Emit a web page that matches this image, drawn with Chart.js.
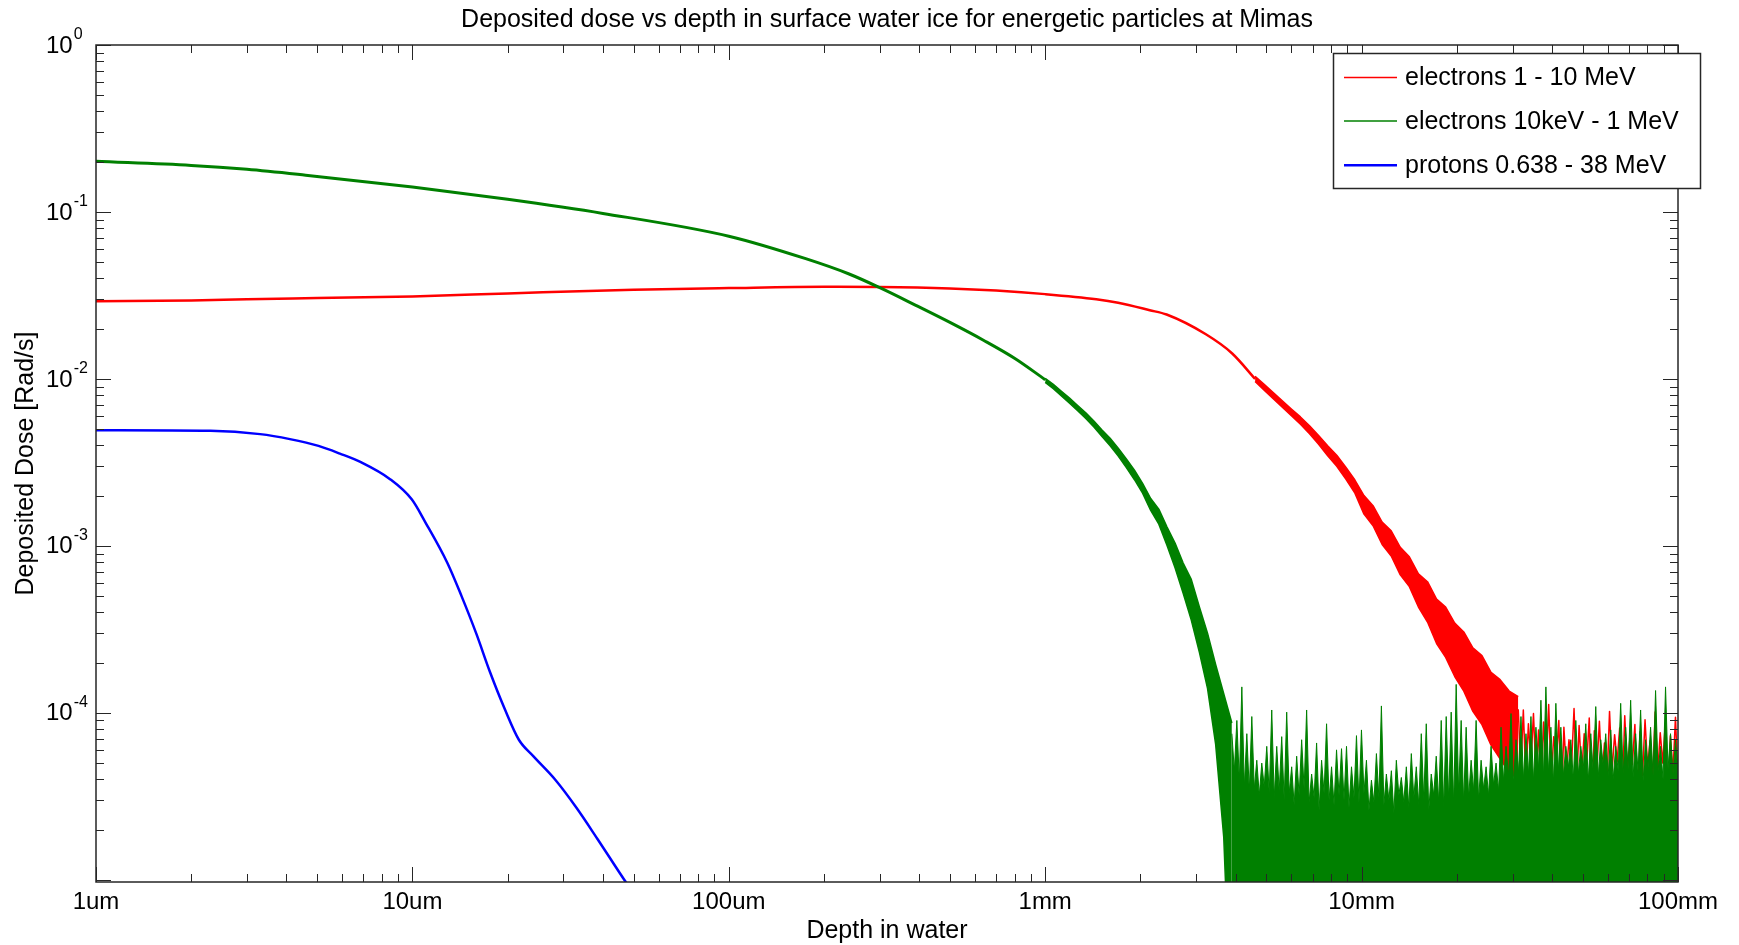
<!DOCTYPE html>
<html>
<head>
<meta charset="utf-8">
<title>Deposited dose vs depth - Mimas</title>
<script src="https://cdn.jsdelivr.net/npm/chart.js"></script>
<style>
    html, body { margin: 0; padding: 0; background: #ffffff; }
    #chart { display: block; }
</style>
</head>
<body>
<canvas id="chart" width="1739" height="945"></canvas>
<script>
// depth is in micrometres, dose in Rad/s
const titleText = "Deposited dose vs depth in surface water ice for energetic particles at Mimas";
const xTitle = "Depth in water";
const yTitle = "Deposited Dose [Rad/s]";
const xTickValues = [1, 10, 100, 1000, 10000, 100000];
const xTickLabels = ["1um", "10um", "100um", "1mm", "10mm", "100mm"];
const yTickPowers = [0, -1, -2, -3, -4];
const seriesNames = ["electrons 1 - 10 MeV", "electrons 10keV - 1 MeV", "protons 0.638 - 38 MeV"];

// electrons 1 - 10 MeV : clean part
const redDepth = [1, 2, 3, 5, 10, 20, 50, 100, 200, 300, 500, 700, 1000, 1450, 1700, 2140, 2420, 3220, 3900, 4606];
const redDose = [0.0292, 0.0295, 0.0300, 0.0305, 0.0312, 0.0325, 0.0342, 0.0350, 0.0356, 0.0355, 0.0348, 0.0338, 0.0322, 0.0300, 0.0286, 0.0258, 0.0243, 0.0185, 0.0142, 0.0100];
// noisy band, 4.6 mm to 31 mm (upper and lower edge)
const redBandRange = [4606, 31270];
const redBandHigh = [0.01038, 0.00927, 0.00828, 0.0074, 0.00661, 0.00592, 0.00524, 0.00458, 0.00398, 0.00349, 0.00296, 0.00248, 0.0020, 0.00174, 0.00139, 0.00123, 9.8e-4, 8.6e-4, 6.8e-4, 6.1e-4, 4.8e-4, 4.3e-4, 3.45e-4, 3.05e-4, 2.45e-4, 2.2e-4, 1.75e-4, 1.58e-4, 1.35e-4, 1.25e-4];
const redBandLow = [0.00964, 0.00857, 0.00762, 0.00678, 0.00603, 0.00535, 0.00469, 0.00406, 0.00347, 0.0030, 0.00251, 0.00207, 0.00155, 0.00132, 0.00102, 8.7e-4, 6.7e-4, 5.7e-4, 4.3e-4, 3.5e-4, 2.6e-4, 2.15e-4, 1.65e-4, 1.35e-4, 1.02e-4, 8.5e-5, 6.4e-5, 5.3e-5, 4.4e-5, 4.0e-5];
// noise floor tail, values in 1e-5 Rad/s
const redTailRange = [31270, 100000];
const redTailPeaks = [10.5, 10.4, 8.6, 9.9, 7.9, 8.8, 11.2, 7.2, 9.0, 8.2, 6.9, 10.6, 8.4, 7.5, 9.3, 7.8, 8.9, 6.6, 10.2, 7.4, 8.1, 9.6, 7.0, 8.5, 7.7, 9.1, 6.8, 10.1, 7.6, 8.7, 7.3, 9.4];
const redTailDips = [4.5, 3.9, 5.0, 4.2, 3.3, 4.6, 4.0, 5.2, 2.6, 4.4, 4.8, 3.6, 4.3, 5.0, 2.4, 4.6, 4.1, 3.8, 4.5, 5.1, 3.2, 4.4, 4.9, 2.5, 4.2, 4.7, 3.9, 4.4, 5.0, 2.8, 4.3, 4.0];

// electrons 10keV - 1 MeV
const greenDepth = [1, 2, 3, 4.6, 10, 20, 40, 100, 175, 240, 300, 390, 500, 640, 800, 1000];
const greenDose = [0.201, 0.190, 0.180, 0.166, 0.141, 0.119, 0.098, 0.0716, 0.0525, 0.0425, 0.0352, 0.0276, 0.0218, 0.0170, 0.0133, 0.0099];
const greenBandRange = [1000, 3890];
const greenBandHigh = [0.01007, 0.00927, 0.00843, 0.00767, 0.00693, 0.00627, 0.0056, 0.00495, 0.00441, 0.00385, 0.00332, 0.00284, 0.00237, 0.00192, 0.00166, 0.0013, 0.00104, 7.9e-4, 6.3e-4, 4.3e-4, 3.0e-4, 1.95e-4, 1.3e-4, 8.7e-5];
const greenBandLow = [0.00953, 0.00873, 0.00791, 0.00716, 0.00644, 0.00579, 0.00515, 0.00452, 0.00398, 0.00345, 0.00294, 0.00249, 0.00207, 0.00163, 0.00135, 0.00101, 7.4e-4, 5.2e-4, 3.6e-4, 2.3e-4, 1.4e-4, 6.5e-5, 1.8e-5, 1e-6];
// noise beyond 3.9 mm, values in 1e-5 Rad/s
const greenNoiseRange = [3890, 100000];
const greenNoisePeaks = [7.5, 9.0, 14.3, 7.5, 9.5, 5.2, 5.0, 6.3, 10.4, 6.3, 7.2, 10.1, 4.75, 5.5, 6.9, 10.4, 4.3, 6.6, 5.2, 8.6, 4.75, 6.0, 6.1, 6.3, 4.75, 7.3, 7.9, 5.2, 3.95, 5.7, 11.0, 4.3, 4.5, 5.2, 4.1, 4.75, 5.7, 4.75, 7.5, 8.6, 4.3, 5.5, 9.0, 9.5, 10.1, 14.8, 9.0, 8.2, 5.2, 9.0, 5.2, 4.75, 6.3, 5.0, 8.2, 6.3, 9.9, 6.9, 9.5, 7.5, 9.5, 8.2, 11.9, 14.3, 8.2, 11.4, 8.2, 6.3, 6.9, 9.0, 6.3, 8.6, 7.5, 10.9, 6.9, 7.5, 7.9, 6.3, 11.4, 8.2, 11.9, 7.5, 10.4, 6.9, 8.2, 13.6, 6.3, 14.3, 7.5, 6.9];
const greenNoiseFloor = [4.5, 3.9, 3.6, 3.4, 3.5, 3.2, 3.6, 3.3, 3.1, 3.4, 3.0, 3.3, 2.8, 3.2, 3.5, 2.9, 3.1, 2.6, 3.3, 3.0, 2.8, 3.2, 3.0, 2.7, 3.1, 2.9, 3.3, 2.6, 2.9, 3.1, 2.8, 3.0, 2.5, 3.2, 2.9, 2.7, 3.1, 2.8, 3.0, 2.6, 3.2, 2.9, 2.7, 3.0, 2.8, 3.3, 2.9, 3.1, 3.4, 3.0, 3.5, 3.2, 3.7, 3.4, 3.9, 4.2, 3.8, 4.4, 4.0, 4.3, 3.9, 4.6, 4.1, 4.4, 3.8, 4.5, 4.2, 4.7, 4.0, 4.3, 4.6, 3.9, 4.4, 4.1, 4.8, 4.2, 4.0, 4.5, 4.3, 4.6, 4.1, 4.4, 3.9, 4.7, 4.2, 4.5, 4.0, 4.6, 4.3, 4.4];

// protons 0.638 - 38 MeV
const protonDepth = [1, 2.3, 3.3, 4.1, 5.05, 5.9, 6.9, 8.5, 9.95, 11, 12.9, 14.3, 15.9, 17.6, 19.6, 21.7, 24.1, 28.2, 33, 38.5, 46.9, 52];
const protonDose = [0.00493, 0.00489, 0.00467, 0.00436, 0.00397, 0.00357, 0.00316, 0.00251, 0.0019, 0.00138, 7.9e-4, 5.0e-4, 3.0e-4, 1.75e-4, 1.05e-4, 6.9e-5, 5.5e-5, 4.0e-5, 2.7e-5, 1.75e-5, 9.9e-6, 7.5e-6];

const RED = "#ff0000", GREEN = "#008000", BLUE = "#0000ff", INK = "#262626";
const FONT = '"Liberation Sans", Arial, Helvetica, sans-serif';

// sample depths (log spaced) for the densely sampled parts
function logGrid(range, n) {
    const a = Math.log10(range[0]), b = Math.log10(range[1]);
    return Array.from({ length: n }, (_, i) => Math.pow(10, a + (b - a) * i / (n - 1)));
}
function toPoints(xs, ys) {
    return xs.map((x, i) => ({ x: x, y: ys[i] }));
}
function interleave(a, b, unit) {
    const out = [];
    a.forEach((v, i) => { out.push(v * unit, b[i] * unit); });
    return out;
}

const redBandDepth = logGrid(redBandRange, redBandHigh.length);
const redTail = interleave(redTailPeaks, redTailDips, 1e-5);
const greenBandDepth = logGrid(greenBandRange, greenBandHigh.length);
const greenNoise = interleave(greenNoisePeaks, greenNoiseFloor, 1e-5);

const datasets = [
    { label: seriesNames[0], data: toPoints(redDepth, redDose), borderColor: RED, borderWidth: 2.5, cubicInterpolationMode: "monotone", order: 13 },
    { label: seriesNames[0], data: toPoints(redBandDepth, redBandHigh), borderColor: RED, borderWidth: 1.5, backgroundColor: RED, fill: "+1", order: 12 },
    { label: seriesNames[0], data: toPoints(redBandDepth, redBandLow), borderColor: RED, borderWidth: 1.5, order: 11 },
    { label: seriesNames[0], data: toPoints(logGrid(redTailRange, redTail.length), redTail), borderColor: RED, borderWidth: 1.5, order: 10 },
    { label: seriesNames[1], data: toPoints(greenDepth, greenDose), borderColor: GREEN, borderWidth: 3, cubicInterpolationMode: "monotone", order: 8 },
    { label: seriesNames[1], data: toPoints(greenBandDepth, greenBandHigh), borderColor: GREEN, borderWidth: 1.5, backgroundColor: GREEN, fill: "+1", order: 7 },
    { label: seriesNames[1], data: toPoints(greenBandDepth, greenBandLow), borderColor: GREEN, borderWidth: 1.5, order: 6 },
    { label: seriesNames[1], data: toPoints(logGrid(greenNoiseRange, greenNoise.length), greenNoise), borderColor: GREEN, borderWidth: 1, backgroundColor: GREEN, fill: "start", order: 5 },
    { label: seriesNames[2], data: toPoints(protonDepth, protonDose), borderColor: BLUE, borderWidth: 2.5, cubicInterpolationMode: "monotone", order: 1 }
];

const legendEntries = [
    { name: seriesNames[0], color: RED, width: 1.5 },
    { name: seriesNames[1], color: GREEN, width: 1.5 },
    { name: seriesNames[2], color: BLUE, width: 2.5 }
];

const whiteBackground = {
    id: "whiteBackground",
    beforeDraw(chart) {
        const ctx = chart.ctx;
        ctx.save();
        ctx.fillStyle = "#ffffff";
        ctx.fillRect(0, 0, chart.width, chart.height);
        ctx.restore();
    }
};

// matlab style box with inward ticks, labels and legend
const matlabAxes = {
    id: "matlabAxes",
    afterDraw(chart) {
        const ctx = chart.ctx;
        const a = chart.chartArea;
        const xs = chart.scales.x, ys = chart.scales.y;
        const major = 15, minor = 8;
        ctx.save();
        ctx.strokeStyle = INK;
        ctx.lineWidth = 1;
        function seg(x1, y1, x2, y2) {
            ctx.beginPath(); ctx.moveTo(x1, y1); ctx.lineTo(x2, y2); ctx.stroke();
        }
        for (let e = 0; e <= 5; e++) {
            for (let m = 1; m <= 9; m++) {
                const v = m * Math.pow(10, e);
                if (v > xs.max) break;
                const px = Math.round(xs.getPixelForValue(v)) + 0.5;
                const len = m === 1 ? major : minor;
                seg(px, a.bottom, px, a.bottom - len);
                seg(px, a.top, px, a.top + len);
            }
        }
        for (let e = -6; e <= 0; e++) {
            for (let m = 1; m <= 9; m++) {
                const v = m * Math.pow(10, e);
                if (v < ys.min || v > ys.max) continue;
                const py = Math.round(ys.getPixelForValue(v)) + 0.5;
                const len = m === 1 ? major : minor;
                seg(a.left, py, a.left + len, py);
                seg(a.right, py, a.right - len, py);
            }
        }
        ctx.lineWidth = 1.5;
        ctx.strokeRect(a.left, a.top, a.right - a.left, a.bottom - a.top);

        ctx.fillStyle = "#000000";
        // x tick labels
        ctx.font = "24px " + FONT;
        ctx.textAlign = "center";
        ctx.textBaseline = "alphabetic";
        xTickValues.forEach((v, i) => {
            ctx.fillText(xTickLabels[i], xs.getPixelForValue(v), 909);
        });
        // y tick labels 10^p
        ctx.textAlign = "left";
        ctx.textBaseline = "middle";
        yTickPowers.forEach(p => {
            const py = ys.getPixelForValue(Math.pow(10, p));
            ctx.font = "24px " + FONT;
            ctx.fillText("10", 46, py + 1);
            const w = ctx.measureText("10").width;
            ctx.font = "16px " + FONT;
            ctx.fillText(String(p), 46 + w + 1, py - 10);
        });
        // titles
        ctx.font = "25px " + FONT;
        ctx.textAlign = "center";
        ctx.textBaseline = "alphabetic";
        const cx = (a.left + a.right) / 2;
        ctx.fillText(titleText, cx, 27);
        ctx.fillText(xTitle, cx, 938);
        ctx.save();
        ctx.translate(33, (a.top + a.bottom) / 2);
        ctx.rotate(-Math.PI / 2);
        ctx.fillText(yTitle, 0, 0);
        ctx.restore();

        // legend
        const box = { left: 1333.5, top: 53.5, width: 367, height: 135 };
        const rows = [77.6, 120.9, 165.2];
        ctx.fillStyle = "#ffffff";
        ctx.fillRect(box.left, box.top, box.width, box.height);
        ctx.strokeStyle = INK;
        ctx.lineWidth = 1.5;
        ctx.strokeRect(box.left, box.top, box.width, box.height);
        ctx.font = "25px " + FONT;
        ctx.textAlign = "left";
        ctx.textBaseline = "middle";
        legendEntries.forEach((entry, i) => {
            ctx.strokeStyle = entry.color;
            ctx.lineWidth = entry.width;
            seg(1344, rows[i], 1397, rows[i]);
            ctx.fillStyle = "#000000";
            ctx.fillText(entry.name, 1405, rows[i] + 1);
        });
        ctx.restore();
    }
};

const chart = new Chart(document.getElementById("chart"), {
    type: "line",
    data: { datasets: datasets },
    options: {
        responsive: false,
        animation: false,
        events: [],
        layout: { padding: { left: 96, right: 61, top: 45, bottom: 63 } },
        scales: {
            x: { type: "logarithmic", min: 1, max: 100000, display: false },
            y: { type: "logarithmic", min: 9.7e-6, max: 1, display: false }
        },
        elements: {
            point: { radius: 0 },
            line: { borderJoinStyle: "round", tension: 0 }
        },
        plugins: {
            legend: { display: false },
            tooltip: { enabled: false },
            filler: { propagate: false }
        }
    },
    plugins: [whiteBackground, matlabAxes]
});
</script>
</body>
</html>
